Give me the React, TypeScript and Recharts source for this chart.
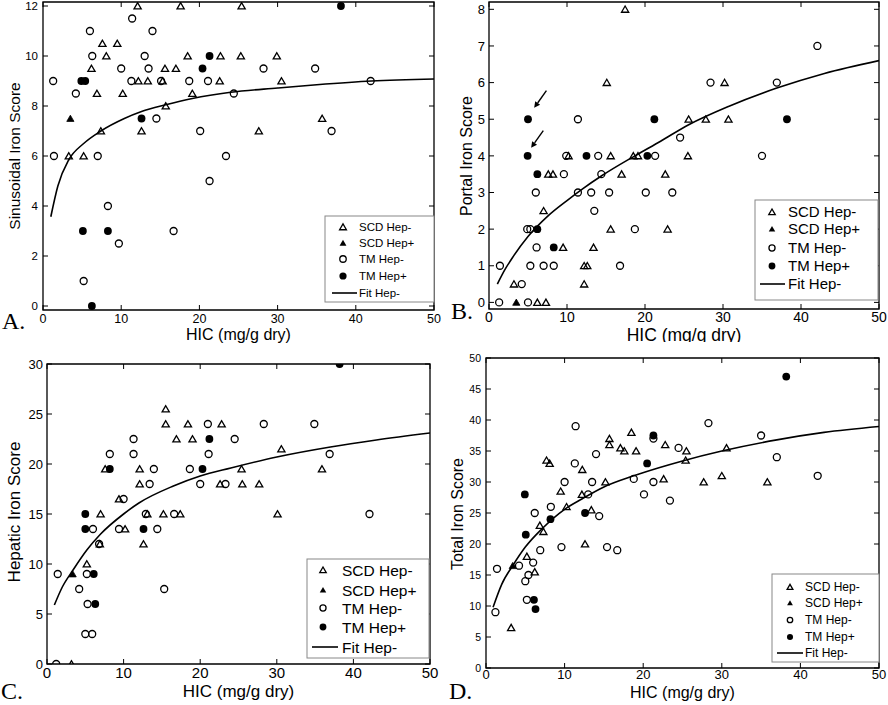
import React from "react";
import { ComposedChart, Scatter, Line, XAxis, YAxis, ReferenceArea, ReferenceLine } from "recharts";

type Pt = [number, number];
const toXY = (arr: Pt[]) => arr.map(([x, y]) => ({ x, y }));

const SANS = "'Liberation Sans', Arial, sans-serif";
const SERIF = "'Liberation Serif', 'Times New Roman', serif";

const X_TICKS = [0, 10, 20, 30, 40, 50];
const A_Y_TICKS = [0, 2, 4, 6, 8, 10, 12];
const B_Y_TICKS = [0, 1, 2, 3, 4, 5, 6, 7, 8];
const C_Y_TICKS = [0, 5, 10, 15, 20, 25, 30];
const D_Y_TICKS = [0, 5, 10, 15, 20, 25, 30, 35, 40, 45, 50];

const LEGEND_LABELS = ["SCD Hep-", "SCD Hep+", "TM Hep-", "TM Hep+", "Fit Hep-"];
const X_TITLE = "HIC (mg/g dry)";

// ---- A. Sinusoidal iron score
const A_SCD_NEG: Pt[] = [
  [12.1, 12], [17.6, 12], [25.4, 12], [7.6, 10.5], [9.5, 10.5], [8.1, 10], [18.5, 10], [22.7, 10],
  [25.3, 10], [29.9, 10], [6.2, 9.5], [15.6, 9.5], [17.0, 9.5], [12.2, 9], [13.4, 9], [15.3, 9],
  [22.6, 9], [30.5, 9], [6.9, 8.5], [10.2, 8.5], [19.1, 8.5], [15.7, 8], [35.7, 7.5], [7.4, 7],
  [12.6, 7], [27.6, 7], [3.3, 6], [5.2, 6],
];
const A_SCD_POS: Pt[] = [[3.5, 7.5]];
const A_TM_NEG: Pt[] = [
  [1.3, 9], [1.4, 6], [4.2, 8.5], [6.0, 11], [6.3, 10], [7.0, 6], [8.3, 4], [9.7, 2.5], [5.2, 1],
  [10.0, 9.5], [11.3, 9], [11.4, 11.5], [13.0, 10], [13.5, 9.5], [14.0, 11], [14.5, 7.5], [15.1, 9],
  [16.7, 3], [18.7, 9], [20.1, 7], [21.1, 9], [21.3, 5], [23.4, 6], [28.2, 9.5], [34.8, 9.5],
  [24.4, 8.5], [41.9, 9], [36.9, 7],
];
const A_TM_POS: Pt[] = [[4.9, 9], [5.4, 9], [5.1, 3], [8.3, 3], [6.25, 0], [12.6, 7.5], [20.4, 9.5], [21.3, 10], [38.1, 12]];
const A_FIT: Pt[] = [
  [1, 3.57], [1.9, 4.8], [3.3, 5.85], [5.2, 6.5], [7.4, 7.0], [10.4, 7.5], [12.6, 7.78], [15.7, 8.05],
  [19.1, 8.3], [24, 8.55], [30, 8.72], [35, 8.85], [42, 9.0], [50, 9.08],
];

// ---- B. Portal iron score
const B_SCD_NEG: Pt[] = [
  [17.45, 8], [15.1, 6], [10.2, 4], [15.6, 4], [18.5, 4], [19.1, 4], [7.6, 3.5], [8.2, 3.5], [17.0, 3.5],
  [7.0, 2.5], [15.6, 2], [9.5, 1.5], [13.4, 1.5], [12.2, 1], [12.6, 1], [12.2, 0.5], [3.2, 0.5],
  [6.2, 0], [7.3, 0], [30.2, 6], [25.6, 5], [27.8, 5], [30.7, 5], [25.5, 4], [22.6, 3.5], [22.9, 2],
];
const B_SCD_POS: Pt[] = [[3.5, 0]];
const B_TM_NEG: Pt[] = [
  [1.3, 0], [1.4, 1], [4.2, 0.5], [5.0, 0], [5.3, 1], [4.9, 2], [5.3, 2], [6.0, 3], [6.1, 1.5], [7.0, 1],
  [8.3, 1], [9.6, 3.5], [9.9, 4], [11.4, 5], [11.4, 3], [13.1, 3], [13.5, 2.5], [14.0, 4], [14.4, 3.5],
  [15.4, 3], [16.8, 1], [18.7, 2], [20.1, 3], [21.3, 4], [42.1, 7], [28.4, 6], [36.9, 6], [24.5, 4.5],
  [35.0, 4], [23.5, 3],
];
const B_TM_POS: Pt[] = [[5.0, 5], [4.95, 4], [6.2, 3.5], [6.2, 2], [8.3, 1.5], [12.5, 4], [20.3, 4], [21.2, 5], [38.2, 5]];
const B_FIT: Pt[] = [
  [1.07, 0.5], [2, 0.88], [3, 1.22], [5, 1.8], [7.5, 2.35], [10, 2.78], [12, 3.1], [14.4, 3.45], [18.7, 4.0],
  [22, 4.4], [25.6, 4.85], [30.7, 5.35], [36.9, 5.85], [43, 6.25], [50, 6.6],
];
// arrows: [tailX, tailY, headX, headY]
const B_ARROWS: [number, number, number, number][] = [
  [7.36, 5.78, 5.79, 5.31],
  [6.96, 4.69, 5.4, 4.22],
];

// ---- C. Hepatic iron score
const C_SCD_NEG: Pt[] = [
  [3.2, 0], [5.2, 10], [7.0, 15], [6.9, 12], [7.6, 19.5], [9.4, 16.5], [10.2, 13.5], [12.1, 19.5],
  [12.1, 18], [12.6, 12], [13.1, 15], [15.2, 15], [15.5, 25.5], [15.5, 24], [16.9, 22.5], [18.4, 24],
  [19.0, 22.5], [17.4, 15], [22.8, 24], [22.6, 18], [25.5, 18], [27.7, 18], [30.6, 21.5], [25.4, 19.5],
  [35.9, 19.5], [30.1, 15],
];
const C_SCD_POS: Pt[] = [[3.35, 9]];
const C_TM_NEG: Pt[] = [
  [1.2, 0], [1.4, 9], [4.2, 7.5], [5.0, 3], [5.9, 3], [5.3, 6], [5.2, 9], [6.0, 13.5], [6.8, 12],
  [8.2, 21], [9.4, 13.5], [10.0, 16.5], [11.3, 22.5], [11.3, 21], [13.4, 18], [13.95, 19.5], [12.9, 15],
  [14.4, 13.5], [15.3, 7.5], [16.6, 15], [18.65, 19.5], [20.0, 18], [21.0, 24], [21.1, 21], [23.3, 18],
  [28.3, 24], [34.9, 24], [24.5, 22.5], [36.9, 21], [42.1, 15],
];
const C_TM_POS: Pt[] = [[5.0, 15], [5.0, 13.5], [6.1, 9], [6.3, 6], [8.2, 19.5], [12.6, 13.5], [20.3, 19.5], [21.2, 22.5], [38.2, 30]];
const C_FIT: Pt[] = [
  [0.96, 5.9], [2, 7.7], [3.4, 9.4], [5.2, 11.4], [7, 13.0], [10, 15.0], [12, 16.1], [16.5, 17.8],
  [20, 18.8], [24, 19.6], [30, 20.7], [37, 21.7], [43, 22.4], [50, 23.1],
];

// ---- D. Total iron score
const D_SCD_NEG: Pt[] = [
  [3.2, 6.5], [5.2, 18], [6.2, 15.5], [6.85, 23], [7.3, 22], [7.7, 33.5], [8.1, 33], [9.5, 28.5],
  [10.25, 26], [12.25, 32], [12.2, 28], [12.6, 20], [13.4, 25.5], [15.2, 30], [15.7, 37], [15.7, 36],
  [17.1, 35.5], [17.6, 35], [18.5, 38], [19.1, 35], [22.8, 36], [25.5, 35], [25.4, 33.5], [30.6, 35.5],
  [22.6, 30.5], [27.7, 30], [30.0, 31], [35.8, 30],
];
const D_SCD_POS: Pt[] = [[3.4, 16.5]];
const D_TM_NEG: Pt[] = [
  [1.2, 9], [1.4, 16], [4.2, 16.5], [5.0, 14], [5.4, 15], [6.0, 17], [5.2, 11], [6.2, 25], [6.9, 19],
  [8.25, 26], [9.6, 19.5], [10.0, 30], [11.4, 39], [11.3, 33], [13.0, 28], [13.5, 30], [14.0, 34.5],
  [14.4, 24.5], [15.4, 19.5], [16.7, 19], [18.8, 30.5], [20.1, 28], [21.3, 37], [21.3, 30], [28.3, 39.5],
  [35.0, 37.5], [24.5, 35.5], [37.0, 34], [42.2, 31], [23.4, 27],
];
const D_TM_POS: Pt[] = [[4.94, 28], [5.06, 21.5], [8.2, 24], [12.6, 25], [6.1, 11], [6.3, 9.5], [20.5, 33], [21.3, 37.5], [38.2, 47]];
const D_FIT: Pt[] = [
  [0.9, 9.8], [2, 13.5], [3.4, 16.5], [5, 19.5], [7, 22.3], [10, 25.6], [12.25, 27.3], [15, 29.2],
  [18.8, 31.0], [22, 32.3], [25, 33.4], [30, 35.0], [37, 36.8], [43, 38.0], [50, 38.95],
];

// ---- marker shapes
const triPts = (cx: number, cy: number, k = 1) =>
  `${cx},${cy - 3.3 * k} ${cx - 3.6 * k},${cy + 2.9 * k} ${cx + 3.6 * k},${cy + 2.9 * k}`;
const OpenTri = (p: any) => <polygon points={triPts(p.cx, p.cy)} fill="none" stroke="#000" strokeWidth={1.3} />;
const FillTri = (p: any) => <polygon points={triPts(p.cx, p.cy)} fill="#000" stroke="#000" strokeWidth={0.8} />;
const OpenCirc = (p: any) => <circle cx={p.cx} cy={p.cy} r={3.5} fill="none" stroke="#000" strokeWidth={1.3} />;
const FillCirc = (p: any) => <circle cx={p.cx} cy={p.cy} r={3.9} fill="#000" />;

const Arrow = (p: any) => {
  const { x1, y1, x2, y2 } = p;
  const a = Math.atan2(y2 - y1, x2 - x1);
  const L = 6, W = 3;
  const bx = x2 - L * Math.cos(a), by = y2 - L * Math.sin(a);
  const nx = -Math.sin(a) * W, ny = Math.cos(a) * W;
  return (
    <g>
      <line x1={x1} y1={y1} x2={bx} y2={by} stroke="#000" strokeWidth={1.4} />
      <polygon points={`${x2},${y2} ${bx + nx},${by + ny} ${bx - nx},${by - ny}`} fill="#000" />
    </g>
  );
};

interface Cfg {
  left: number; top: number; w: number; h: number;
  m: { top: number; left: number; right: number; bottom: number };
  yDomain: [number, number]; yTicks: number[];
  xFont: number; yFont: number; xDy: number; yGap: number;
  scdNeg: Pt[]; scdPos: Pt[]; tmNeg: Pt[]; tmPos: Pt[]; fit: Pt[];
  arrows?: [number, number, number, number][];
}

// m = plot-area edges; axes take 1px each, removed below
const PANELS: Cfg[] = [
  {
    left: 0, top: 0, w: 444, h: 352, m: { top: 2, left: 43, right: 10, bottom: 42 },
    yDomain: [-0.16, 12.16], yTicks: A_Y_TICKS, xFont: 12.5, yFont: 11.5, xDy: 13, yGap: 5,
    scdNeg: A_SCD_NEG, scdPos: A_SCD_POS, tmNeg: A_TM_NEG, tmPos: A_TM_POS, fit: A_FIT,
  },
  {
    left: 444, top: 0, w: 444, h: 352, m: { top: 2, left: 45, right: 9, bottom: 43 },
    yDomain: [-0.18, 8.2], yTicks: B_Y_TICKS, xFont: 14, yFont: 13, xDy: 13, yGap: 4,
    scdNeg: B_SCD_NEG, scdPos: B_SCD_POS, tmNeg: B_TM_NEG, tmPos: B_TM_POS, fit: B_FIT, arrows: B_ARROWS,
  },
  {
    left: 0, top: 352, w: 444, h: 353, m: { top: 12, left: 47, right: 14, bottom: 41 },
    yDomain: [0, 30], yTicks: C_Y_TICKS, xFont: 15, yFont: 13, xDy: 14, yGap: 4,
    scdNeg: C_SCD_NEG, scdPos: C_SCD_POS, tmNeg: C_TM_NEG, tmPos: C_TM_POS, fit: C_FIT,
  },
  {
    left: 444, top: 352, w: 444, h: 353, m: { top: 6, left: 42, right: 9, bottom: 37 },
    yDomain: [0, 50], yTicks: D_Y_TICKS, xFont: 13, yFont: 10.5, xDy: 11, yGap: 5,
    scdNeg: D_SCD_NEG, scdPos: D_SCD_POS, tmNeg: D_TM_NEG, tmPos: D_TM_POS, fit: D_FIT,
  },
];

function Panel({ c }: { c: Cfg }) {
  const top = c.m.top;
  const bottom = c.h - c.m.bottom;
  const left = c.m.left;
  const right = c.w - c.m.right;
  const margin = { top: c.m.top, right: c.m.right, left: c.m.left - 1, bottom: c.m.bottom - 1 };

  const xTick = (props: any) => {
    const { x, payload } = props;
    return (
      <g>
        <line x1={x} x2={x} y1={bottom} y2={bottom - 5} stroke="#000" />
        <line x1={x} x2={x} y1={top} y2={top + 5} stroke="#000" />
        <text x={x} y={bottom + c.xDy} textAnchor="middle" fontSize={c.xFont} fontFamily={SANS} fill="#000">
          {payload.value}
        </text>
      </g>
    );
  };
  const yTick = (props: any) => {
    const { y, payload } = props;
    return (
      <g>
        <line x1={left} x2={left + 5} y1={y} y2={y} stroke="#000" />
        <line x1={right} x2={right - 5} y1={y} y2={y} stroke="#000" />
        <text x={left - c.yGap} y={y + c.yFont * 0.36} textAnchor="end" fontSize={c.yFont} fontFamily={SANS} fill="#000">
          {payload.value}
        </text>
      </g>
    );
  };

  return (
    <div style={{ position: "absolute", left: c.left, top: c.top }}>
      <ComposedChart width={c.w} height={c.h} margin={margin}>
        <XAxis type="number" dataKey="x" domain={[0, 50]} ticks={X_TICKS} interval={0} height={1}
          tickLine={false} axisLine={false} tick={xTick} allowDataOverflow />
        <YAxis type="number" dataKey="y" domain={c.yDomain} ticks={c.yTicks} interval={0} width={1}
          tickLine={false} axisLine={false} tick={yTick} allowDataOverflow />
        <ReferenceArea x1={0} x2={50} y1={c.yDomain[0]} y2={c.yDomain[1]} fill="none" fillOpacity={0}
          stroke="#000" strokeWidth={1.3} />
        <Scatter data={toXY(c.scdNeg)} shape={OpenTri} isAnimationActive={false} />
        <Scatter data={toXY(c.scdPos)} shape={FillTri} isAnimationActive={false} />
        <Scatter data={toXY(c.tmNeg)} shape={OpenCirc} isAnimationActive={false} />
        <Scatter data={toXY(c.tmPos)} shape={FillCirc} isAnimationActive={false} />
        <Line data={toXY(c.fit)} dataKey="y" type="monotone" stroke="#000" strokeWidth={1.6}
          dot={false} activeDot={false} isAnimationActive={false} />
        {(c.arrows || []).map((a, i) => (
          <ReferenceLine key={i} segment={[{ x: a[0], y: a[1] }, { x: a[2], y: a[3] }]} shape={Arrow} />
        ))}
      </ComposedChart>
    </div>
  );
}

interface Lg { x: number; y: number; w: number; h: number; font: number; sym: number; tx: number; rows: number[]; l1: number; l2: number; k: number }
const LEGENDS: Lg[] = [
  { x: 325, y: 216, w: 109, h: 86, font: 11.5, sym: 343, tx: 359, rows: [227, 243, 259, 276, 293], l1: 332, l2: 357, k: 0.95 },
  { x: 755, y: 200, w: 123, h: 100, font: 15, sym: 772, tx: 788, rows: [212, 229, 248, 266, 284], l1: 760, l2: 785, k: 0.9 },
  { x: 307, y: 559, w: 122, h: 99, font: 15.5, sym: 323, tx: 342, rows: [570, 590, 608, 627, 647], l1: 312, l2: 338, k: 0.9 },
  { x: 772, y: 574, w: 107, h: 88, font: 12, sym: 790, tx: 805, rows: [587, 603, 620, 637, 653], l1: 777, l2: 803, k: 0.8 },
];

function LegendBox({ g }: { g: Lg }) {
  const r = g.rows;
  return (
    <g>
      <rect x={g.x} y={g.y} width={g.w} height={g.h} fill="#fff" stroke="#888" strokeWidth={1} />
      <polygon points={triPts(g.sym, r[0], g.k)} fill="none" stroke="#000" strokeWidth={1.3} />
      <polygon points={triPts(g.sym, r[1], g.k)} fill="#000" />
      <circle cx={g.sym} cy={r[2]} r={3.4 * g.k} fill="none" stroke="#000" strokeWidth={1.3} />
      <circle cx={g.sym} cy={r[3]} r={3.8 * g.k} fill="#000" />
      <line x1={g.l1} x2={g.l2} y1={r[4]} y2={r[4]} stroke="#000" strokeWidth={1.6} />
      {LEGEND_LABELS.map((t, i) => (
        <text key={t} x={g.tx} y={r[i] + g.font * 0.36} fontSize={g.font} fontFamily={SANS} fill="#000">{t}</text>
      ))}
    </g>
  );
}

export default function App() {
  return (
    <div style={{ position: "absolute", left: 0, top: 0, width: 888, height: 705, background: "#fff", overflow: "hidden" }}>
      {PANELS.map((c, i) => <Panel key={i} c={c} />)}
      <svg width={888} height={705} style={{ position: "absolute", left: 0, top: 0, pointerEvents: "none" }}>
        <defs>
          <clipPath id="clipB"><rect x={444} y={0} width={444} height={342} /></clipPath>
        </defs>
        {LEGENDS.map((g, i) => <LegendBox key={i} g={g} />)}
        <g fontFamily={SANS} fill="#000" textAnchor="middle">
          <text x={238.5} y={340} fontSize={16}>{X_TITLE}</text>
          <text x={684} y={341} fontSize={17.5} clipPath="url(#clipB)">{X_TITLE}</text>
          <text x={238.5} y={697} fontSize={17}>{X_TITLE}</text>
          <text x={682.5} y={698} fontSize={16}>{X_TITLE}</text>
          <text transform="translate(20,156) rotate(-90)" fontSize={15.5}>Sinusoidal Iron Score</text>
          <text transform="translate(472,156) rotate(-90)" fontSize={16}>Portal Iron Score</text>
          <text transform="translate(20,512) rotate(-90)" fontSize={17}>Hepatic Iron Score</text>
          <text transform="translate(463,514) rotate(-90)" fontSize={16}>Total Iron Score</text>
        </g>
        <g fontFamily={SERIF} fill="#000" fontSize={24}>
          <text x={2} y={329}>A.</text>
          <text x={451} y={319}>B.</text>
          <text x={1} y={699}>C.</text>
          <text x={449} y={699}>D.</text>
        </g>
      </svg>
    </div>
  );
}
